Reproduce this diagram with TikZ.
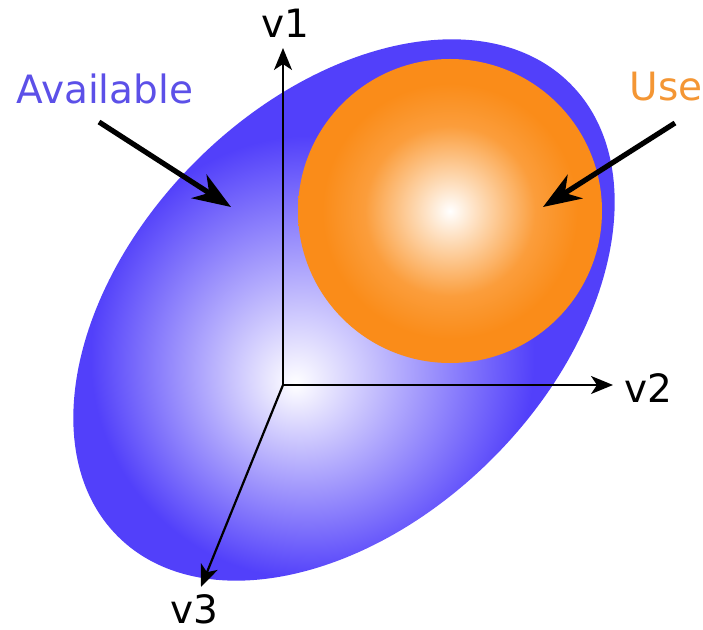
\documentclass[tikz,border=0pt]{standalone}
\usepackage{fontspec}
\setmainfont{DejaVu Sans}
\usetikzlibrary{arrows.meta}
\definecolor{avblue}{RGB}{82,64,250}
\definecolor{avtext}{RGB}{92,80,232}
\definecolor{usorange}{RGB}{250,140,25}
\definecolor{ustext}{RGB}{244,150,52}
\pgfdeclareradialshading{avshade}{\pgfpoint{-4bp}{-6bp}}{%
  color(0bp)=(white); color(8bp)=(avblue!45!white);
  color(18bp)=(avblue); color(50bp)=(avblue)}
\pgfdeclareradialshading{usshade}{\pgfpoint{0bp}{0bp}}{%
  color(0bp)=(white); color(4bp)=(usorange!25!white);
  color(14bp)=(usorange!85!white); color(21bp)=(usorange); color(50bp)=(usorange)}

\begin{document}
\begin{tikzpicture}[x=0.5pt,y=-0.5pt,line width=1.1pt,>={Stealth[length=11pt,width=9pt,inset=3pt]},
  every node/.style={font=\fontsize{19.5}{23}\selectfont},
  pointer/.style={line width=2.6pt,-{Stealth[length=19pt,width=14pt,inset=6pt]}}]
  \useasboundingbox (0,0) rectangle (703,630);
  \coordinate (C) at (344,310);
  \coordinate (U) at (450,211);
  \shade[shading=avshade,rotate around={45:(C)}] (C) ellipse [x radius=320,y radius=210];
  \shade[shading=usshade] (U) circle [radius=152];
  \coordinate (O) at (283,385);
  \coordinate (V1) at (283,48);
  \coordinate (V2) at (613,385);
  \coordinate (V3) at (201,587);
  \draw[->] (O) -- (V1);
  \draw[->] (O) -- (V2);
  \draw[->] (O) -- (V3);
  \node (v1) at (285,23) {v1};
  \node (v2) at (648,388) {v2};
  \node (v3) at (194,609) {v3};
  \node[text=avtext] (avail) at (105,89) {Available};
  \node[text=ustext] (use) at (666,87) {Use};
  \coordinate (A0) at (99,122);
  \coordinate (A1) at (231,207);
  \coordinate (B0) at (675,123);
  \coordinate (B1) at (543,207);
  \draw[pointer] (A0) -- (A1);
  \draw[pointer] (B0) -- (B1);
\end{tikzpicture}
\end{document}
